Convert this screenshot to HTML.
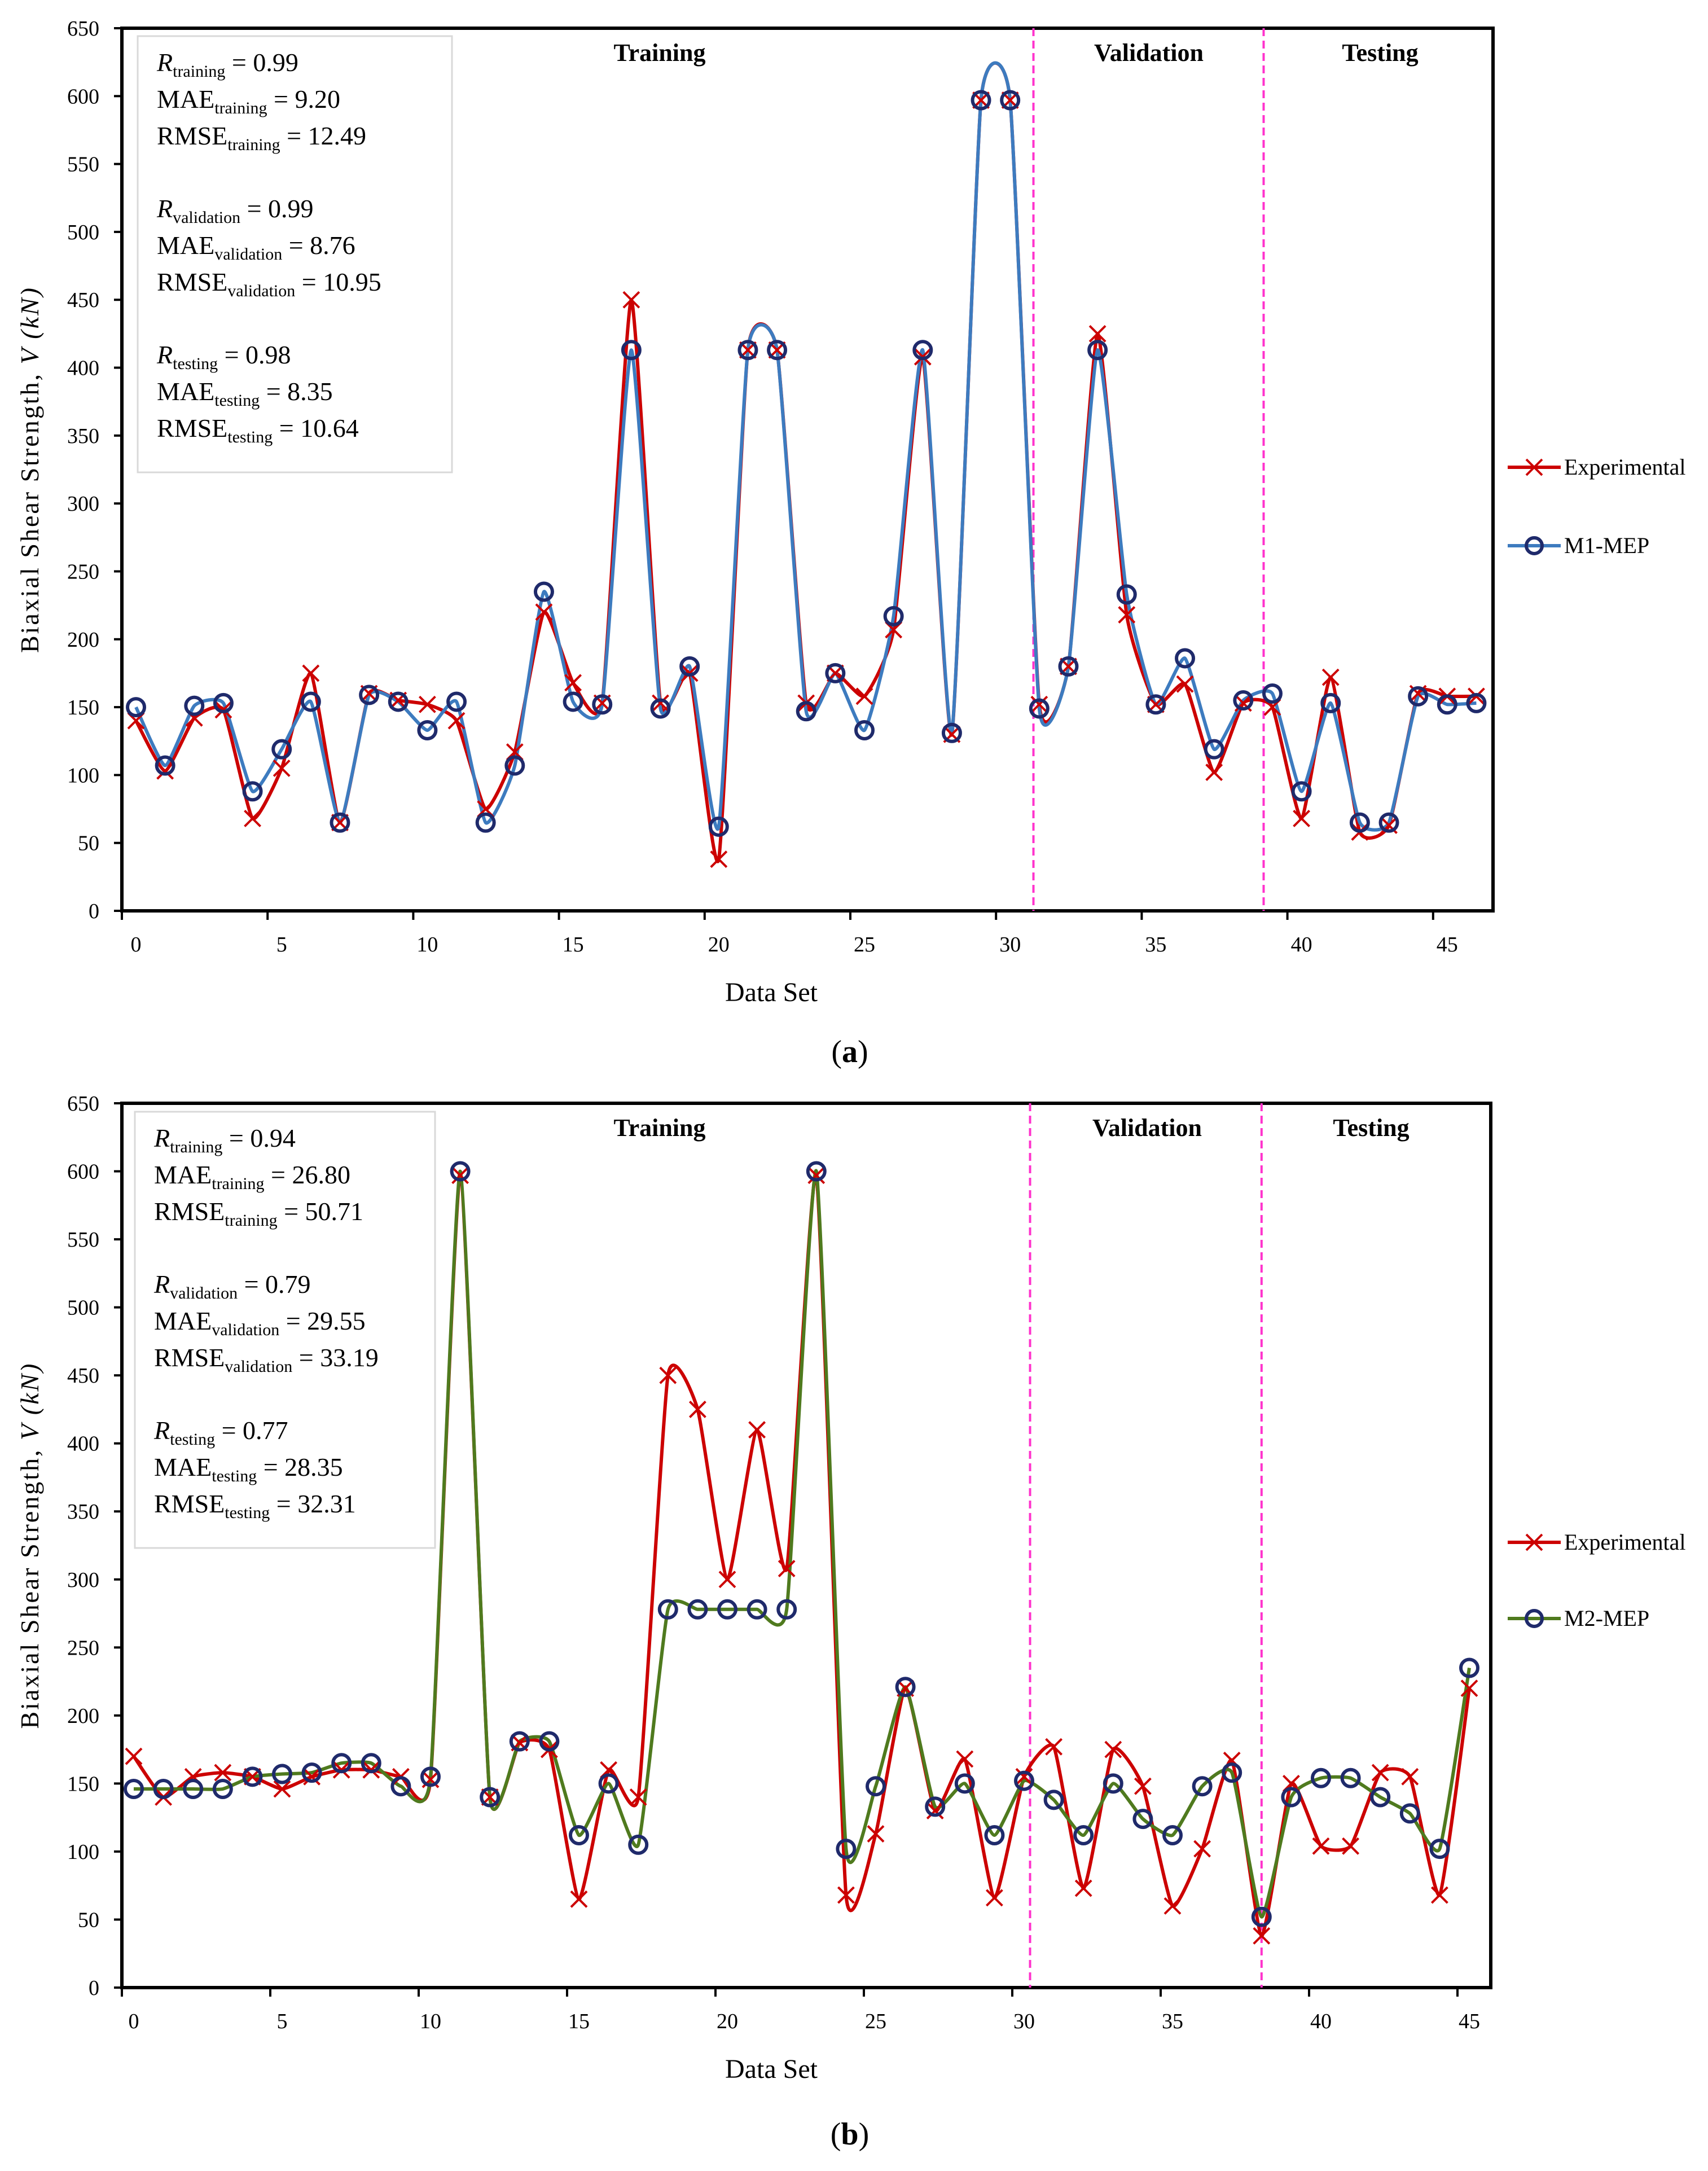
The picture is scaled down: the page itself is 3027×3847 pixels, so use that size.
<!DOCTYPE html>
<html><head><meta charset="utf-8"><style>
html,body{margin:0;padding:0;background:#fff}
svg{display:block}
text{font-family:"Liberation Serif",serif}
</style></head><body>
<svg id="fig" width="3027" height="3847" viewBox="0 0 3027 3847" xmlns="http://www.w3.org/2000/svg">
<rect width="3027" height="3847" fill="#fff"/>
</svg>
<script>
// ---- data ----
const yTicks = [0,50,100,150,200,250,300,350,400,450,500,550,600,650];
const xTicks = [0,5,10,15,20,25,30,35,40,45];
const expA = [140,103,142,148,68,105,175,65,160,155,152,140,75,117,220,168,153,450,153,175,38,413,413,153,175,158,207,408,130,597,597,152,180,425,218,152,167,102,153,150,68,172,58,63,160,158,158];
const m1A  = [150,107,151,153,88,119,154,65,159,154,133,154,65,107,235,154,152,413,149,180,62,413,413,147,175,133,217,413,131,597,597,149,180,413,233,152,186,119,155,160,88,153,65,65,158,152,153];
const expB = [170,140,155,158,155,146,155,160,160,155,153,597,140,180,175,65,160,140,450,425,300,410,308,597,68,113,220,130,168,66,155,177,73,175,148,60,102,167,38,150,104,104,158,155,68,220];
const m2B  = [146,146,146,146,155,157,158,165,165,148,155,600,140,181,181,112,150,105,278,278,278,278,278,600,102,148,221,133,150,112,152,138,112,150,124,112,148,158,52,140,154,154,140,128,102,235];
const splitsA = [30.8,38.7];
const splitsB = [30.2,38.0];
const statsA = [["R","training","0.99",true],["MAE","training","9.20"],["RMSE","training","12.49"],null,["R","validation","0.99",true],["MAE","validation","8.76"],["RMSE","validation","10.95"],null,["R","testing","0.98",true],["MAE","testing","8.35"],["RMSE","testing","10.64"]];
const statsB = [["R","training","0.94",true],["MAE","training","26.80"],["RMSE","training","50.71"],null,["R","validation","0.79",true],["MAE","validation","29.55"],["RMSE","validation","33.19"],null,["R","testing","0.77",true],["MAE","testing","28.35"],["RMSE","testing","32.31"]];

const NS="http://www.w3.org/2000/svg";
const svg=document.getElementById('fig');
function mk(tag,attrs,parent){const e=document.createElementNS(NS,tag);for(const k in attrs)e.setAttribute(k,attrs[k]);(parent||svg).appendChild(e);return e;}

function spline(pts){
  let d=`M${pts[0][0]},${pts[0][1]}`;
  for(let i=0;i<pts.length-1;i++){
    const p0=pts[Math.max(0,i-1)],p1=pts[i],p2=pts[i+1],p3=pts[Math.min(pts.length-1,i+2)];
    const t=0.08;
    const c1=[p1[0]+(p2[0]-p0[0])*t,p1[1]+(p2[1]-p0[1])*t];
    const c2=[p2[0]-(p3[0]-p1[0])*t,p2[1]-(p3[1]-p1[1])*t];
    d+=` C${c1[0]},${c1[1]} ${c2[0]},${c2[1]} ${p2[0]},${p2[1]}`;
  }
  return d;
}

function panel(cfg){
  const g=mk('g',{});
  
  
  const {L,R,T,B,x0,dx}=cfg;
  const xs=i=>x0+dx*i;
  const ys=v=>B-(v/650)*(B-T);
  const box=mk('rect',{x:cfg.box[0],y:cfg.box[1],width:cfg.box[2],height:cfg.box[3],fill:'#fff',stroke:'#d9d9d9','stroke-width':3},g);
  
  
  let ly=cfg.box[1]+62;
  cfg.stats.forEach((s,k)=>{
    if(!s){ly+=64;return;}
    const t=mk('text',{x:cfg.box[0]+34,y:ly,'font-size':46},g);
    
    
    const a=mk('tspan',{},t);a.textContent=s[0];if(s[3])a.setAttribute('font-style','italic');
    const b=mk('tspan',{'font-size':30,dy:10},t);b.textContent=s[1];
    const c=mk('tspan',{dy:-10},t);c.textContent=(s[0]==='MAE'?' = ':'  = ')+s[2];
    ly+=65;
  });
  const fr=mk('rect',{x:L,y:T,width:R-L,height:B-T,fill:'none',stroke:'#000','stroke-width':6},g);
  
  
  yTicks.forEach(v=>{
    mk('line',{x1:L-14,x2:L,y1:ys(v),y2:ys(v),stroke:'#000','stroke-width':4},g);
    const t=mk('text',{x:L-40,y:ys(v)+13,'font-size':38,'text-anchor':'end'},g);
    t.textContent=v;
    
    
  });
  xTicks.forEach(v=>{
    mk('line',{x1:L+(v/5)*(dx*5),x2:L+(v/5)*(dx*5),y1:B,y2:B+16,stroke:'#000','stroke-width':4},g);
    const t=mk('text',{x:xs(v),y:B+72,'font-size':38,'text-anchor':'middle'},g);
    t.textContent=v;
    
    
  });
  cfg.splits.forEach(s=>{
    const l=mk('line',{x1:xs(s),x2:xs(s),y1:T,y2:B,stroke:'#ff33cc','stroke-width':4,'stroke-dasharray':'14 8'},g);
    
    
  });
  [['Training',cfg.lab[0]],['Validation',cfg.lab[1]],['Testing',cfg.lab[2]]].forEach(([s,x])=>{
    const t=mk('text',{x:x,y:T+58,'font-size':44,'font-weight':'bold','text-anchor':'middle'},g);
    t.textContent=s;
    
    
  });
  const pe=cfg.exp.map((v,i)=>[xs(i),ys(v)]);
  const pm=cfg.mod.map((v,i)=>[xs(i),ys(v)]);
  const le=mk('path',{d:spline(pe),fill:'none',stroke:'#cc0000','stroke-width':6},g);
  
  
  const lm=mk('path',{d:spline(pm),fill:'none',stroke:cfg.mcol,'stroke-width':6},g);
  
  
  pe.forEach(p=>{
    const c=mk('path',{d:`M${p[0]-14},${p[1]-14}L${p[0]+14},${p[1]+14}M${p[0]-14},${p[1]+14}L${p[0]+14},${p[1]-14}`,stroke:'#cc0000','stroke-width':4},g);
    
    
  });
  pm.forEach(p=>{
    const c=mk('circle',{cx:p[0],cy:p[1],r:15,fill:'none',stroke:'#1f2a6b','stroke-width':6},g);
    
    
  });
  const [lx,ly1,ly2]=cfg.leg;
  mk('line',{x1:lx,x2:lx+94,y1:ly1,y2:ly1,stroke:'#cc0000','stroke-width':6},g);
  mk('path',{d:`M${lx+33},${ly1-14}L${lx+61},${ly1+14}M${lx+33},${ly1+14}L${lx+61},${ly1-14}`,stroke:'#cc0000','stroke-width':4},g);
  const t1=mk('text',{x:lx+100,y:ly1+13,'font-size':40},g);t1.textContent='Experimental';
  
  
  mk('line',{x1:lx,x2:lx+94,y1:ly2,y2:ly2,stroke:cfg.mcol,'stroke-width':6},g);
  mk('circle',{cx:lx+47,cy:ly2,r:14,fill:'none',stroke:'#1f2a6b','stroke-width':6},g);
  const t2=mk('text',{x:lx+100,y:ly2+13,'font-size':40},g);t2.textContent=cfg.mname;
  
  
  const yt=mk('text',{x:0,y:0,'font-size':46,'text-anchor':'middle','letter-spacing':3,transform:`translate(68,${(T+B)/2}) rotate(-90)`},g);
  
  
  yt.innerHTML='Biaxial Shear Strength, <tspan font-style="italic">V (kN)</tspan>';
  const xt=mk('text',{x:1367,y:B+160,'font-size':48,'text-anchor':'middle'},g);
  xt.textContent='Data Set';
  
  
  const cap=mk('text',{x:1506,y:cfg.capY,'font-size':56,'text-anchor':'middle'},g);
  cap.innerHTML='(<tspan font-weight="bold">'+cfg.cap+'</tspan>)';
  
  
}

panel({name:'panel-a',L:216,R:2646,T:50,B:1614,x0:241,dx:51.64,exp:expA,mod:m1A,mcol:'#3d7bbf',mname:'M1-MEP',
  splits:splitsA,stats:statsA,box:[244,64,557,773],lab:[1169,2036,2446],leg:[2672,828,967],capY:1882,cap:'a'});
panel({name:'panel-b',L:216,R:2642,T:1955,B:3522,x0:237,dx:52.6,exp:expB,mod:m2B,mcol:'#4f7a1e',mname:'M2-MEP',
  splits:splitsB,stats:statsB,box:[239,1970,532,773],lab:[1169,2033,2430],leg:[2672,2733,2868],capY:3800,cap:'b'});
</script>
</body></html>
